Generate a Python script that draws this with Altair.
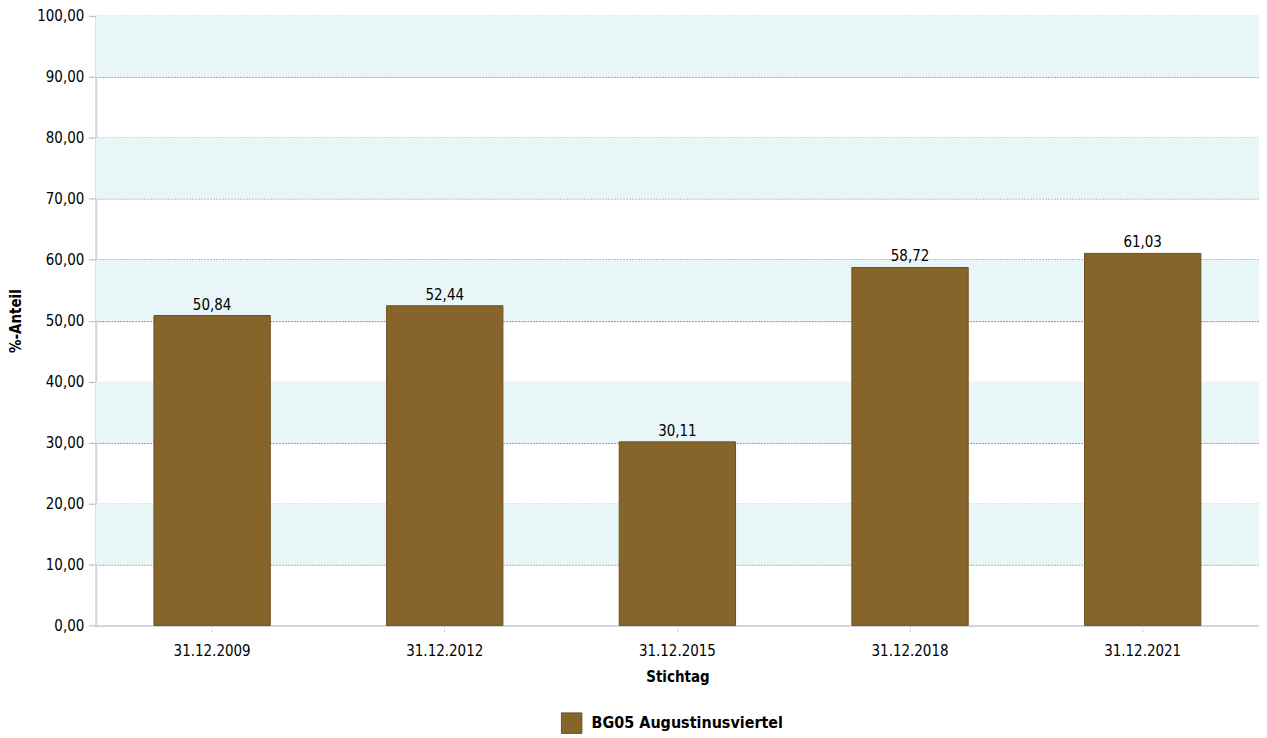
import altair as alt
import pandas as pd

dates = ["31.12.2009", "31.12.2012", "31.12.2015", "31.12.2018", "31.12.2021"]
values = [50.84, 52.44, 30.11, 58.72, 61.03]
series = "BG05 Augustinusviertel"
band_lo = [10, 30, 50, 70, 90]
band_hi = [20, 40, 60, 80, 100]

W = 1166
H = 611
FONT = "DejaVu Sans Condensed"

df = pd.DataFrame({"Stichtag": dates, "Wert": values, "Serie": [series] * len(dates)})
df["Label"] = [f"{v:.2f}".replace(".", ",") for v in values]
bands = pd.DataFrame({"lo": band_lo, "hi": band_hi})

yscale = alt.Scale(domain=[0, 100], nice=False)

band_layer = alt.Chart(bands).mark_rect(color="#E8F6F8").encode(
    x=alt.value(0), x2=alt.value(W),
    y=alt.Y("lo:Q", scale=yscale), y2="hi:Q",
)

xenc = alt.X("Stichtag:N", sort=dates, title="Stichtag",
             scale=alt.Scale(paddingInner=0.5, paddingOuter=0.25),
             axis=alt.Axis(labelAngle=0, labelFont=FONT, labelFontSize=15, labelColor="#000",
                           titleFont=FONT, titleFontSize=15, titleFontWeight="bold", titleColor="#000",
                           titlePadding=11, labelPadding=10,
                           domainColor="#D0D6DC", domainWidth=2,
                           tickColor="#BBBBBB", tickDash=[2, 2], tickSize=8, grid=False))

bars = alt.Chart(df).mark_bar(stroke="#6B5020", strokeWidth=1).encode(
    x=xenc,
    y=alt.Y("Wert:Q", scale=yscale, title="%-Anteil",
            axis=alt.Axis(values=list(range(0, 101, 10)),
                          labelExpr="replace(format(datum.value, '.2f'), '.', ',')",
                          labelFont=FONT, labelFontSize=15, labelColor="#000", labelPadding=5,
                          titleFont=FONT, titleFontSize=15, titleFontWeight="bold", titleColor="#000",
                          titlePadding=13,
                          grid=True, gridColor="#888888", gridDash=[2, 1], gridWidth=1,
                          tickColor="#888888", tickDash=[2, 1], tickSize=7,
                          domainColor="#D0D6DC", domainWidth=2)),
    color=alt.Color("Serie:N", scale=alt.Scale(range=["#87642A"]),
                    legend=alt.Legend(title=None, orient="none", legendX=466, legendY=698,
                                      symbolType="square", symbolSize=420, symbolStrokeColor="#6B5020",
                                      symbolStrokeWidth=1, symbolOpacity=1, labelLimit=0,
                                      labelFont=FONT, labelFontSize=16, labelFontWeight="bold",
                                      labelColor="#000", labelOffset=9)),
)

text = alt.Chart(df).mark_text(dy=-11, font=FONT, fontSize=15, color="#000").encode(
    x=alt.X("Stichtag:N", sort=dates),
    y=alt.Y("Wert:Q", scale=yscale),
    text="Label:N",
)

chart = alt.layer(band_layer, bars, text).properties(
    width=W, height=H, padding={"left": 0, "top": 0, "right": 0, "bottom": 0}
).configure_view(stroke=None).configure(background="white")

chart.save("out.html", embed_options={"renderer": "svg", "actions": False})
